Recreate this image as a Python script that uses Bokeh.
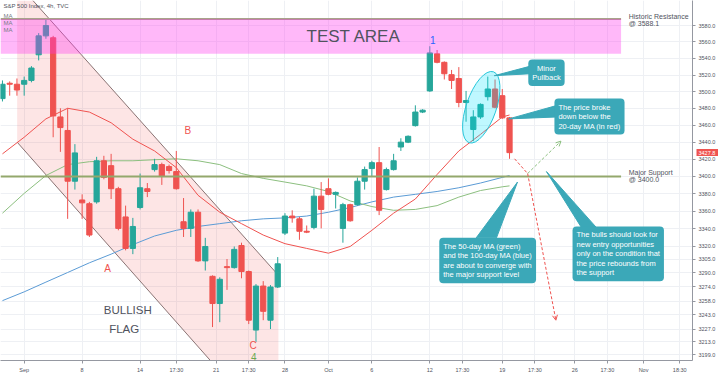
from bokeh.plotting import figure
from bokeh.models import (Range1d, FixedTicker, NumeralTickFormatter, Label, Arrow,
                          OpenHead, ColumnDataSource, BoxAnnotation, LogAxis)
from bokeh.embed import file_html
from bokeh.resources import INLINE

# ---------------- data ----------------
opens = [3491.7, 3510.1, 3508.9, 3508.9, 3513.5, 3544.4, 3567.4, 3565.1, 3469.9, 3453.9,
         3394.5, 3372.8, 3368.5, 3370.6, 3418.3, 3412.6, 3385.8, 3353.3, 3317.4, 3364.1,
         3385.8, 3408.0, 3413.8, 3411.5, 3405.7, 3347.8, 3340.2, 3358.7, 3303.3, 3285.9,
         3255.5, 3296.8, 3295.7, 3320.7, 3291.3, 3226.1, 3275.0, 3237.0, 3273.9, 3334.8,
         3354.3, 3351.1, 3336.9, 3341.3, 3377.2, 3385.8, 3379.3, 3340.2, 3367.4, 3367.4,
         3394.5, 3409.2, 3416.1, 3384.8, 3408.0, 3434.4, 3440.1, 3459.6, 3475.7, 3500.9,
         3545.6, 3535.3, 3520.4, 3515.8, 3487.1, 3455.0, 3469.9, 3494.0, 3503.2, 3495.2,
         3468.8]
highs = [3513.5, 3512.3, 3515.8, 3518.1, 3530.7, 3570.8, 3586.9, 3567.4, 3480.2, 3480.2,
         3437.8, 3379.3, 3370.6, 3422.9, 3424.1, 3426.4, 3388.0, 3366.3, 3352.2, 3403.4,
         3392.4, 3420.6, 3416.1, 3413.8, 3429.8, 3375.0, 3361.9, 3361.9, 3329.4, 3287.0,
         3284.8, 3305.4, 3319.6, 3323.9, 3292.4, 3277.2, 3280.5, 3276.1, 3307.6, 3357.6,
         3360.9, 3353.3, 3343.5, 3385.8, 3393.5, 3397.8, 3382.6, 3369.5, 3368.5, 3398.9,
         3411.5, 3418.3, 3434.4, 3410.3, 3426.4, 3444.7, 3448.1, 3483.7, 3479.1, 3554.8,
         3550.2, 3536.4, 3526.1, 3529.5, 3500.9, 3477.9, 3486.0, 3518.1, 3514.6, 3503.2,
         3469.9]
lows = [3488.3, 3495.2, 3495.2, 3495.2, 3511.2, 3537.6, 3563.9, 3445.9, 3428.7, 3351.1,
        3384.8, 3351.1, 3330.4, 3368.5, 3396.7, 3373.9, 3338.0, 3315.2, 3310.9, 3361.9,
        3376.1, 3405.7, 3390.2, 3403.4, 3384.8, 3330.4, 3330.4, 3302.2, 3292.4, 3229.4,
        3234.8, 3270.7, 3294.6, 3283.7, 3232.7, 3213.1, 3237.0, 3227.2, 3272.8, 3332.6,
        3346.7, 3327.2, 3334.8, 3339.1, 3340.2, 3378.2, 3363.0, 3323.9, 3347.8, 3366.3,
        3384.8, 3400.0, 3355.4, 3383.7, 3406.9, 3429.8, 3439.0, 3458.5, 3474.5, 3499.7,
        3534.1, 3514.6, 3503.2, 3481.4, 3464.2, 3441.3, 3467.6, 3489.4, 3480.2, 3467.6,
        3420.6]
closes = [3508.9, 3508.9, 3502.0, 3513.5, 3528.4, 3567.4, 3580.0, 3471.1, 3457.3, 3394.5,
          3427.5, 3369.5, 3332.6, 3418.3, 3398.9, 3385.8, 3340.2, 3317.4, 3342.4, 3386.9,
          3382.6, 3413.8, 3400.0, 3406.9, 3385.8, 3340.2, 3358.7, 3303.3, 3319.6, 3255.5,
          3282.6, 3295.7, 3316.3, 3291.3, 3237.0, 3275.0, 3246.8, 3273.9, 3300.0, 3354.3,
          3352.2, 3336.9, 3335.9, 3377.2, 3361.9, 3379.3, 3381.5, 3367.4, 3348.9, 3394.5,
          3408.0, 3416.1, 3360.9, 3408.0, 3418.3, 3440.1, 3447.0, 3475.7, 3477.9, 3546.7,
          3535.3, 3521.5, 3513.5, 3487.1, 3489.4, 3469.9, 3484.8, 3503.2, 3481.4, 3468.8,
          3427.8]

ma_idx = [0, 3, 6, 9, 12, 15, 18, 21, 24, 27, 30, 33, 36, 39, 42, 45, 48, 51, 54, 57,
          60, 63, 66, 69, 70]
ma20 = [3426.4, 3445.9, 3467.6, 3480.2, 3475.7, 3463.0, 3443.6, 3429.8, 3410.3, 3378.2,
        3358.7, 3345.6, 3332.6, 3322.8, 3317.4, 3312.0, 3319.6, 3338.0, 3357.6, 3373.9,
        3402.3, 3429.8, 3449.3, 3469.9, 3472.2]
ma50 = [3357.6, 3380.4, 3401.1, 3413.8, 3417.2, 3418.3, 3418.3, 3419.5, 3420.6, 3418.3,
        3413.8, 3403.4, 3397.8, 3393.5, 3389.1, 3382.6, 3371.7, 3365.2, 3360.9, 3361.9,
        3366.3, 3376.1, 3383.7, 3388.0, 3389.1]
ma100 = [3258.7, 3268.5, 3279.4, 3290.2, 3301.1, 3310.9, 3321.7, 3331.5, 3338.0, 3342.4,
         3345.6, 3348.9, 3351.1, 3352.2, 3354.3, 3358.7, 3364.1, 3370.6, 3376.1, 3379.3,
         3382.6, 3386.9, 3392.4, 3398.9, 3401.1]

y_ticks = [3199, 3213, 3227, 3243, 3258, 3274, 3290, 3305, 3320, 3340, 3360, 3380, 3400,
           3420, 3440, 3460, 3480, 3500, 3520, 3540, 3560, 3580]
x_tick_pos = [3, 11, 19, 24, 29.5, 34, 39, 45, 51, 59, 63.5, 69, 73.5, 79, 83.5, 88.5, 93.5]
x_tick_labels = ["Sep", "8", "14", "17:30", "21", "17:30", "28", "Oct", "6", "12", "17:30",
                 "19", "17:30", "26", "17:30", "Nov", "18:30"]

resistance = 3588.1
support = 3400.0
last_price = 3427.8
test_area_low = 3545.6

# ---------------- figure ----------------
X0, X1 = -0.27, 95.26
Y0, Y1 = 3192.7, 3610.8
p = figure(width=718, height=375, x_range=Range1d(X0, X1), y_range=Range1d(Y0, Y1),
           y_axis_type="log", y_axis_location="right", output_backend="svg",
           toolbar_location=None, min_border_left=0, min_border_top=0,
           min_border_right=22, min_border_bottom=14)
p.outline_line_color = None
p.background_fill_color = "white"

FONT = "Liberation Sans"
TXT = "#50535e"

p.yaxis.ticker = FixedTicker(ticks=y_ticks)
p.yaxis.formatter = NumeralTickFormatter(format="0.0")
p.xaxis.ticker = FixedTicker(ticks=x_tick_pos)
p.xaxis.major_label_overrides = {k: v for k, v in zip(x_tick_pos, x_tick_labels)}
for ax in (p.xaxis, p.yaxis):
    ax.major_label_text_font_size = "5.5px"
    ax.major_label_text_color = TXT
    ax.major_label_text_font = FONT
    ax.axis_line_color = "#9598a1"
    ax.major_tick_line_color = "#9598a1"
    ax.major_tick_out = 3
    ax.major_tick_in = 0
    ax.minor_tick_line_color = None
    ax.major_label_standoff = 3
p.xgrid.ticker = FixedTicker(ticks=x_tick_pos)
p.ygrid.ticker = FixedTicker(ticks=y_ticks)
for g in (p.xgrid, p.ygrid):
    g.grid_line_color = "#eef0f4"
    g.grid_line_width = 1

# last-price tag on the price scale: a second axis whose single thick inward tick
# forms the red box, with its label drawn in white on top
tag_axis = LogAxis(ticker=FixedTicker(ticks=[last_price]),
                   formatter=NumeralTickFormatter(format="0.0"),
                   major_label_text_font_size="5.5px", major_label_text_font=FONT,
                   major_label_text_color="white", axis_line_color=None,
                   major_tick_line_color="#ef5350", major_tick_line_width=7,
                   minor_tick_line_color=None,
                   major_tick_out=0, major_tick_in=22, major_label_standoff=-20)
p.add_layout(tag_axis, "right")

# channel (bullish flag) fill and borders
p.patch([2.03, 4.2, 38.1, 38.1, 28.7, 2.03], [Y1, Y1, 3287.0, Y0, Y0, 3440.1],
        fill_color="#ef5350", fill_alpha=0.15, line_color=None)
p.line([4.2, 38.1], [Y1, 3287.0], line_color="#8a7373", line_width=1)
p.line([2.03, 28.7], [3440.1, Y0], line_color="#8a7373", line_width=1)

# moving averages
p.line(ma_idx, ma100, line_color="#5b9bd5", line_width=1)
p.line(ma_idx, ma50, line_color="#8cbf7f", line_width=1)
p.line(ma_idx, ma20, line_color="#ef5350", line_width=1)

# candles
idx = list(range(len(opens)))
up = [c >= o for o, c in zip(opens, closes)]
src = ColumnDataSource(dict(
    x=idx, h=highs, l=lows,
    top=[max(o, c) for o, c in zip(opens, closes)],
    bottom=[min(o, c) for o, c in zip(opens, closes)],
    color=["#26a69a" if u else "#ef5350" for u in up]))
p.segment(x0="x", y0="h", x1="x", y1="l", line_color="color", source=src, line_width=1)
p.vbar(x="x", width=0.72, top="top", bottom="bottom", fill_color="color",
       line_color="color", source=src)

# support / resistance lines
p.line([X0, 85.4], [resistance, resistance], line_color="#a8a38a", line_width=2)
p.line([X0, 85.4], [support, support], line_color="#93a86c", line_width=2)

# test area band
p.add_layout(BoxAnnotation(left=X0, right=85.4, top=resistance, bottom=test_area_low,
                           fill_color="#ff33ee", fill_alpha=0.35, line_alpha=0))

# ellipse (minor pullback)
p.ellipse(x=[66.1], y=[3481.4], width=[75], height=[30], angle=[1.24],
          width_units="screen", height_units="screen",
          fill_color="#00e5ff", fill_alpha=0.25, line_color="#26c6da", line_width=1)

# projection arrows
p.line([70.7, 72.5], [3420.6, 3403.4], line_color="#ef5350", line_dash="3 2", line_width=1)
p.add_layout(Arrow(x_start=72.5, y_start=3403.4, x_end=76.4, y_end=3237.0,
                   line_color="#ef5350", line_dash="3 2", line_width=1,
                   end=OpenHead(size=5, line_color="#ef5350", line_width=1)))
p.add_layout(Arrow(x_start=72.5, y_start=3403.4, x_end=77.1, y_end=3441.3,
                   line_color="#8cbf7f", line_dash="3 2", line_width=1,
                   end=OpenHead(size=5, line_color="#8cbf7f", line_width=1)))

# callout tails
TEAL = "#3ba8b8"
p.patches(xs=[[72.9, 72.9, 67.9], [76.6, 76.6, 69.9], [65.4, 68.2, 71.1], [80.0, 82.1, 75.1]],
          ys=[[3530.7, 3521.5, 3519.2], [3483.7, 3469.9, 3467.6],
              [3329.4, 3329.4, 3393.5], [3340.2, 3340.2, 3405.7]],
          fill_color=TEAL, line_color=TEAL)

def callout(x, y, text, align="left", baseline="top"):
    p.add_layout(Label(x=x, y=y, text=text, text_font=FONT, text_font_size="7.5px",
                       text_color="white", background_fill_color=TEAL,
                       background_fill_alpha=1, border_radius=4, padding=4,
                       text_align=align, text_baseline=baseline, text_line_height=1.05))

callout(75.1, 3522.7, "Minor\nPullback", align="center", baseline="middle")
callout(76.2, 3491.7, "The price broke\ndown below the\n20-day MA (in red)")
callout(60.3, 3329.4, "The 50-day MA (green)\nand the 100-day MA (blue)\nare about to converge with\nthe major support level")
callout(78.7, 3342.4, "The bulls should look for\nnew entry opportunities\nonly on the condition that\nthe price rebounds from\nthe support")

def text(x, y, t, color=TXT, size="7px", align="left", baseline="top", xo=0, yo=0):
    p.add_layout(Label(x=x, y=y, text=t, text_font=FONT, text_font_size=size,
                       text_color=color, text_align=align, text_baseline=baseline,
                       x_offset=xo, y_offset=yo, text_line_height=1.0))

text(48.5, 3566.2, "TEST AREA", size="17px", align="center", baseline="middle")
text(17.3, 3247.8, "BULLISH", size="11.5px", align="center", baseline="middle")
text(16.8, 3227.0, "FLAG", size="11.5px", align="center", baseline="middle")
text(14.5, 3294.6, "A", color="#ef5350", size="10px", align="center", baseline="middle")
text(25.6, 3453.9, "B", color="#ef5350", size="10px", align="center", baseline="middle")
text(34.6, 3208.7, "C", color="#ef5350", size="10px", align="center", baseline="middle")
text(34.7, 3196.5, "4", color="#6aa84f", size="10px", align="center", baseline="middle")
text(59.4, 3562.8, "1", color="#2962ff", size="10px", align="center", baseline="middle")
text(86.45, 3594.9, "Historic Resistance\n@ 3588.1", size="7px")
text(86.45, 3409.2, "Major Support\n@ 3400.0", size="7px")

# header
text(X0, Y1, "S&P 500 Index, 4h, TVC", size="6px", xo=3, yo=-2)
text(X0, Y1, "MA", color="#787b86", size="6px", xo=3, yo=-12)
text(X0, Y1, "MA", color="#787b86", size="6px", xo=3, yo=-19)
text(X0, Y1, "MA", color="#787b86", size="6px", xo=3, yo=-26)

open("out.html", "w").write(file_html(p, INLINE))
